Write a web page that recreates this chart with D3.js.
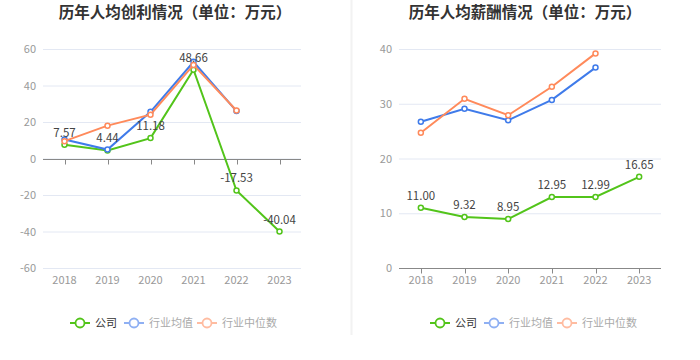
<!DOCTYPE html>
<html><head><meta charset="utf-8">
<script src="https://cdn.jsdelivr.net/npm/d3@7/dist/d3.min.js"></script>
<style>body{margin:0;background:#fff}svg{display:block;font-family:"Noto Sans CJK SC","Noto Sans",sans-serif}</style>
</head><body><svg id="c" width="700" height="360"></svg>
<script>
const years = ["2018","2019","2020","2021","2022","2023"];
const profitCompany = [7.57, 4.44, 11.18, 48.66, -17.53, -40.04];
const profitAvg = [10.4, 4.9, 25.6, 53.0, 26.0, null];
const profitMedian = [9.5, 18.0, 24.0, 51.3, 26.3, null];
const salaryCompany = [11.00, 9.32, 8.95, 12.95, 12.99, 16.65];
const salaryAvg = [26.7, 29.1, 27.0, 30.7, 36.6, null];
const salaryMedian = [24.7, 30.9, 27.9, 33.1, 39.2, null];
const profitTicks = [-60,-40,-20,0,20,40,60];
const salaryTicks = [0,10,20,30,40];
const legendNames = ["公司","行业均值","行业中位数"];

const colors = ["#52c41a","#3f7bea","#ff8a5b"];
const legendColors = ["#52c41a","#8fb0f3","#ffbca1"];
const svg = d3.select("#c");

svg.append("line").attr("x1",351.5).attr("x2",351.5).attr("y1",0).attr("y2",335)
  .attr("stroke","#f2f2f2").attr("stroke-width",2);

function chart(opt){
  const g = svg.append("g");
  g.append("text").attr("x",opt.cx).attr("y",18).attr("text-anchor","middle")
    .attr("font-size",15.5).attr("font-weight","bold").attr("fill","#333").text(opt.title);
  const x = d3.scaleBand().domain(years).range(opt.xr);
  const y = d3.scaleLinear().domain(opt.yd).range([opt.yb, 49]);
  g.selectAll(".grid").data(opt.ticks).join("line")
    .attr("x1",opt.xr[0]).attr("x2",opt.xr[1])
    .attr("y1",d=>y(d)+0.5).attr("y2",d=>y(d)+0.5)
    .attr("stroke","#e3e8f3").attr("stroke-width",1);
  g.selectAll(".yl").data(opt.ticks).join("text")
    .attr("x",opt.xr[0]-7).attr("y",d=>y(d)+4).attr("text-anchor","end")
    .attr("font-size",11).attr("fill","#999").text(d=>d);
  const y0 = Math.round(y(0))+0.5;
  g.append("line").attr("x1",opt.xr[0]).attr("x2",opt.xr[1]).attr("y1",y0).attr("y2",y0)
    .attr("stroke","#888").attr("stroke-width",1);
  g.selectAll(".tk").data(years).join("line")
    .attr("x1",d=>Math.round(x(d)+x.bandwidth()/2)+0.5).attr("x2",d=>Math.round(x(d)+x.bandwidth()/2)+0.5)
    .attr("y1",y0).attr("y2",y0+5).attr("stroke","#888");
  g.selectAll(".xl").data(years).join("text")
    .attr("x",d=>x(d)+x.bandwidth()/2).attr("y",opt.yb+16).attr("text-anchor","middle")
    .attr("font-size",11).attr("fill","#999").text(d=>d);
  const series = [opt.c, opt.a, opt.m];
  [0,1,2].forEach(si=>{
    const vals = series[si];
    const pts = years.map((yr,i)=>({x:x(yr)+x.bandwidth()/2, v:vals[i]})).filter(p=>p.v!==null);
    const line = d3.line().x(p=>p.x).y(p=>y(p.v));
    g.append("path").attr("d",line(pts)).attr("fill","none")
      .attr("stroke",colors[si]).attr("stroke-width",2);
    g.selectAll(null).data(pts).join("circle")
      .attr("cx",p=>p.x).attr("cy",p=>y(p.v)).attr("r",2.5)
      .attr("fill","#fff").attr("stroke",colors[si]).attr("stroke-width",1.5);
  });
  const cpts = years.map((yr,i)=>({x:x(yr)+x.bandwidth()/2, v:opt.c[i]}));
  g.selectAll(".lab").data(cpts).join("text")
    .attr("x",p=>p.x).attr("y",p=>y(p.v)-8).attr("text-anchor","middle")
    .attr("font-size",11.5).attr("fill","#444").text(p=>p.v.toFixed(2));
  const ly = 323;
  const offs = [0, 54, 127];
  legendNames.forEach((n,i)=>{
    const lx = opt.lx + offs[i];
    g.append("line").attr("x1",lx).attr("x2",lx+20).attr("y1",ly).attr("y2",ly)
      .attr("stroke",legendColors[i]).attr("stroke-width",2);
    g.append("circle").attr("cx",lx+10).attr("cy",ly).attr("r",4.5)
      .attr("fill","#fff").attr("stroke",legendColors[i]).attr("stroke-width",1.8);
    g.append("text").attr("x",lx+25).attr("y",ly+4).attr("font-size",11)
      .attr("fill",i===0?"#333":"#aaa").text(n);
  });
}

chart({title:"历年人均创利情况（单位：万元）", cx:175, xr:[43,301], yd:[-60,60], yb:268,
  ticks:profitTicks, c:profitCompany, a:profitAvg, m:profitMedian, lx:70});
chart({title:"历年人均薪酬情况（单位：万元）", cx:525, xr:[399,661], yd:[0,40], yb:268,
  ticks:salaryTicks, c:salaryCompany, a:salaryAvg, m:salaryMedian, lx:430});
</script></body></html>
